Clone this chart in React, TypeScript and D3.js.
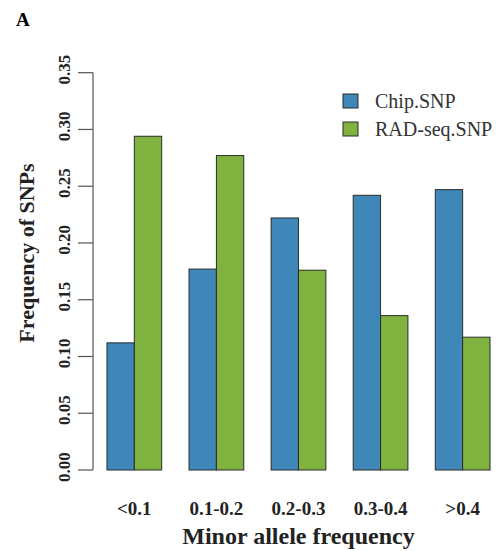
import React from "react";
import * as d3 from "d3";

const categories = ["<0.1", "0.1-0.2", "0.2-0.3", "0.3-0.4", ">0.4"];
const seriesNames = ["Chip.SNP", "RAD-seq.SNP"];
const chipValues = [0.112, 0.177, 0.222, 0.242, 0.247];
const radValues = [0.294, 0.277, 0.176, 0.136, 0.117];
const yTicks = [0, 0.05, 0.1, 0.15, 0.2, 0.25, 0.3, 0.35];
const colors = ["#3e87b8", "#80b23f"];

export default function App() {
  const W = 497, H = 551;
  const y = d3.scaleLinear().domain([0, 0.35]).range([470, 72.7]);
  // R-style barplot units: each group = space(1) + 2 bars
  const x = d3.scaleLinear().domain([0, 15]).range([79.6, 490]);
  const series = [chipValues, radValues];
  const font = "'Liberation Serif', 'Times New Roman', serif";
  const axisX = 93;
  return (
    <svg width={W} height={H} style={{ position: "absolute", left: 0, top: 0, background: "#fff" }}>
      <text x={16} y={26} fontFamily={font} fontWeight="bold" fontSize={19}>A</text>
      {/* bars */}
      {categories.map((c, i) =>
        series.map((vals, s) => {
          const u0 = i * 3 + 1 + s;
          return (
            <rect key={c + s} x={x(u0)} y={y(vals[i])} width={x(u0 + 1) - x(u0)}
              height={y(0) - y(vals[i])} fill={colors[s]} stroke="#2b2b2b" strokeWidth={1} />
          );
        })
      )}
      {/* y axis */}
      <line x1={axisX} x2={axisX} y1={y(0)} y2={y(0.35)} stroke="#555" strokeWidth={1.2} />
      {yTicks.map((t) => (
        <g key={t}>
          <line x1={78} x2={axisX} y1={y(t)} y2={y(t)} stroke="#555" strokeWidth={1.2} />
          <text transform={`translate(70,${y(t) - 3}) rotate(-90)`} textAnchor="middle"
            fontFamily={font} fontWeight="bold" fontSize={17} fill="#222">{t.toFixed(2)}</text>
        </g>
      ))}
      <text transform={`translate(34,253) rotate(-90)`} textAnchor="middle" fontFamily={font}
        fontWeight="bold" fontSize={22} fill="#222">Frequency of SNPs</text>
      {/* x labels */}
      {categories.map((c, i) => (
        <text key={c} x={x(i * 3 + 2)} y={515} textAnchor="middle" fontFamily={font}
          fontWeight="bold" fontSize={19} fill="#222">{c}</text>
      ))}
      <text x={x(8)} y={544} textAnchor="middle" fontFamily={font} fontWeight="bold"
        fontSize={24} fill="#222">Minor allele frequency</text>
      {/* legend */}
      {seriesNames.map((n, s) => (
        <g key={n}>
          <rect x={343} y={94 + s * 28} width={15} height={14} fill={colors[s]} stroke="#2b2b2b" strokeWidth={1} />
          <text x={375} y={108 + s * 28} fontFamily={font} fontSize={20} fill="#333">{n}</text>
        </g>
      ))}
    </svg>
  );
}
